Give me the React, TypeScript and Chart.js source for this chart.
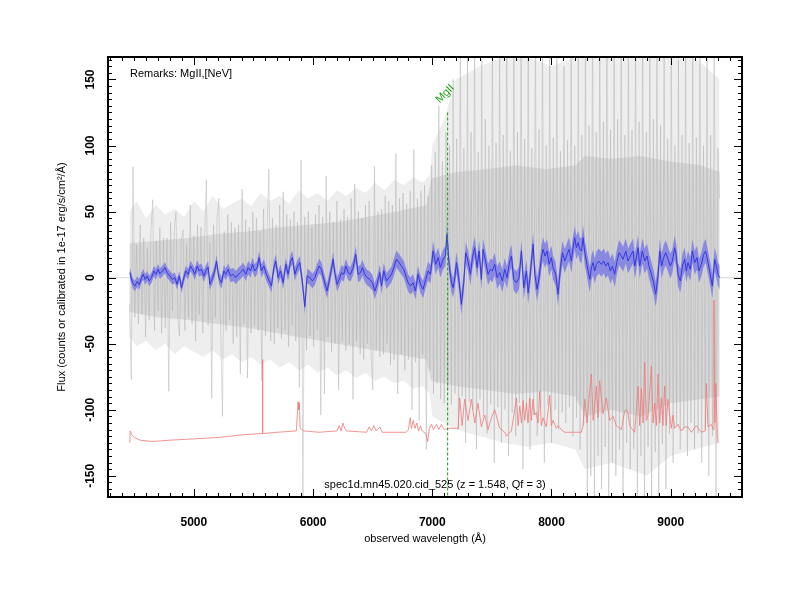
import React, { useEffect, useRef } from "react";
import { Chart, registerables } from "chart.js";

Chart.register(...registerables);

const FONT = '"Liberation Sans", Arial, Helvetica, sans-serif';

const X_MIN = 4280;
const X_MAX = 9598;
const Y_MIN = -166;
const Y_MAX = 167;
const xTickValues = [5000, 6000, 7000, 8000, 9000];
const yTickValues = [-150, -100, -50, 0, 50, 100, 150];
const xTitle = "observed wavelength (Å)";
const yTitle = "Flux (counts or calibrated in 1e-17 erg/s/cm²/Å)";
const remarks = "Remarks: MgII,[NeV]";
const caption = "spec1d.mn45.020.cid_525 (z = 1.548, Qf = 3)";
const lineName = "MgII";
const lineWave = 7129;
const lineTop = 125;

// raw (unsmoothed) spectrum, grey
const rawWave = [
  4460, 4475, 4490, 4505, 4520, 4535, 4550, 4565, 4580, 4595, 4610, 4625, 4640, 4655, 4670, 4685, 4700, 4715, 4730, 4745,
  4760, 4775, 4790, 4805, 4820, 4835, 4850, 4865, 4880, 4895, 4910, 4925, 4940, 4955, 4970, 4985, 5000, 5015, 5030, 5045,
  5060, 5075, 5090, 5105, 5120, 5135, 5150, 5165, 5180, 5195, 5210, 5225, 5240, 5255, 5270, 5285, 5300, 5315, 5330, 5345,
  5360, 5375, 5390, 5405, 5420, 5435, 5450, 5465, 5480, 5495, 5510, 5525, 5540, 5555, 5570, 5585, 5600, 5615, 5630, 5645,
  5660, 5675, 5690, 5705, 5720, 5735, 5750, 5765, 5780, 5795, 5810, 5825, 5840, 5855, 5870, 5885, 5900, 5915, 5930, 5945,
  5960, 5975, 5990, 6005, 6020, 6035, 6050, 6065, 6080, 6095, 6110, 6125, 6140, 6155, 6170, 6185, 6200, 6215, 6230, 6245,
  6260, 6275, 6290, 6305, 6320, 6335, 6350, 6365, 6380, 6395, 6410, 6425, 6440, 6455, 6470, 6485, 6500, 6515, 6530, 6545,
  6560, 6575, 6590, 6605, 6620, 6635, 6650, 6665, 6680, 6695, 6710, 6725, 6740, 6755, 6770, 6785, 6800, 6815, 6830, 6845,
  6860, 6875, 6890, 6905, 6920, 6935, 6950, 6965, 6980, 6995, 7010, 7025, 7040, 7055, 7070, 7085, 7100, 7115, 7130, 7145,
  7160, 7175, 7190, 7205, 7220, 7235, 7250, 7265, 7280, 7295, 7310, 7325, 7340, 7355, 7370, 7385, 7400, 7415, 7430, 7445,
  7460, 7475, 7490, 7505, 7520, 7535, 7550, 7565, 7580, 7595, 7610, 7625, 7640, 7655, 7670, 7685, 7700, 7715, 7730, 7745,
  7760, 7775, 7790, 7805, 7820, 7835, 7850, 7865, 7880, 7895, 7910, 7925, 7940, 7955, 7970, 7985, 8000, 8015, 8030, 8045,
  8060, 8075, 8090, 8105, 8120, 8135, 8150, 8165, 8180, 8195, 8210, 8225, 8240, 8255, 8270, 8285, 8300, 8315, 8330, 8345,
  8360, 8375, 8390, 8405, 8420, 8435, 8450, 8465, 8480, 8495, 8510, 8525, 8540, 8555, 8570, 8585, 8600, 8615, 8630, 8645,
  8660, 8675, 8690, 8705, 8720, 8735, 8750, 8765, 8780, 8795, 8810, 8825, 8840, 8855, 8870, 8885, 8900, 8915, 8930, 8945,
  8960, 8975, 8990, 9005, 9020, 9035, 9050, 9065, 9080, 9095, 9110, 9125, 9140, 9155, 9170, 9185, 9200, 9215, 9230, 9245,
  9260, 9275, 9290, 9305, 9320, 9335, 9350, 9365, 9380, 9395, 9410,
];
const rawFlux = [
  -20, -77, 84, -30, 25, -35, 40, -28, 30, -45, 22, -32, 35, 59, -40, 28, -25, 38, -42, 30,
  -38, 30, -86, 42, -25, 35, 50, -30, -44, 28, 36, -40, 25, -30, 55, -35, 32, -48, 40, -28,
  38, -42, 30, 74, -36, 26, -91, 40, -30, 45, 60, -38, -105, 35, -40, 48, -32, 42, -50, 38,
  -45, 40, -73, 67, -35, 44, -76, 38, -42, 50, -36, 45, -40, 35, -78, 52, -44, 38, 82, -48,
  45, -50, 40, -38, 55, -46, 65, -40, 48, -52, 44, -36, 50, -48, 42, -83, 89, -166, 46, -55,
  50, -44, 38, -52, 48, -40, 55, -104, 46, -88, 77, -45, 50, -56, 42, -50, 58, -85, 44, -48,
  52, -55, 46, -50, 60, -92, 71, -48, 50, -58, 45, -62, 55, -50, 58, -52, -85, 84, -55, 50,
  -60, 52, -58, 62, -50, 58, -66, 55, -62, 94, -88, 60, -58, 64, -70, 56, -62, 66, -100, 97,
  -64, 60, -108, 66, -58, 70, -130, 62, -70, 85, -88, 95, -80, 130, -92, 88, -95, 110, -85, 100,
  -96, 150, -88, 105, -115, 180, -90, 98, -125, 175, -94, 110, -100, 190, -130, 95, -92, 165, -105, 120,
  -118, 100, -96, 185, -140, 102, -98, 170, -125, 108, -100, 200, -135, 96, -102, 180, -120, 110, -95, 195,
  -145, 105, -100, 175, -130, 98, -104, 190, -120, 112, -98, 200, -140, 100, -96, 170, -125, 106, -100, 185,
  -115, 96, -102, 160, -110, 104, -98, 180, -120, 100, -106, 175, -130, 108, -112, 200, -180, 115, -150, 210,
  -170, 110, -135, 190, -160, 118, -128, 200, -175, 112, -140, 185, -150, 120, -130, 200, -165, 108, -125, 180,
  -145, 112, -130, 195, -170, 118, -135, 205, -185, 110, -128, 190, -175, 120, -132, 200, -180, 115, -126, 185,
  -160, 105, -118, 175, -140, 100, -112, 165, -130, 108, -115, 180, -135, 102, -110, 170, -130, 106, -118, 185,
  -140, 100, -115, 175, -150, 108, -120, 190, -170, 98, 60,
];

// dense core of the raw spectrum
const envWave = [4460, 4700, 4950, 5200, 5450, 5700, 5950, 6200, 6450, 6700, 6950, 6990, 7200, 7450, 7700, 7950, 8200, 8280, 8500, 8750, 9000, 9250, 9410];
const coreHi = [26, 28, 30, 33, 35, 38, 40, 42, 46, 50, 55, 75, 80, 82, 85, 82, 85, 92, 90, 92, 88, 85, 80];
const coreLo = [-26, -30, -32, -35, -38, -42, -46, -50, -54, -58, -62, -78, -82, -85, -88, -86, -90, -105, -100, -105, -95, -92, -90];

// lighter outer zone of the raw spectrum
const outerWave = [
  4460, 4520, 4600, 4680, 4760, 4840, 4920, 5000, 5080, 5160, 5240, 5320, 5400, 5480, 5560, 5640, 5720, 5800, 5880, 5960,
  6040, 6120, 6200, 6280, 6360, 6440, 6520, 6600, 6680, 6760, 6840, 6920, 6980, 7000, 7100, 7200, 7400, 7600, 7800, 8000,
  8200, 8280, 8500, 8800, 9000, 9200, 9410,
];
const outerHi = [
  50, 58, 45, 55, 48, 52, 46, 58, 50, 62, 52, 56, 60, 54, 64, 58, 62, 56, 66, 60,
  64, 58, 66, 62, 68, 64, 72, 66, 74, 70, 76, 72, 78, 100, 120, 150, 160, 167, 167, 160,
  167, 167, 167, 167, 167, 167, 150,
];
const outerLo = [
  -45, -52, -48, -55, -50, -58, -52, -56, -60, -55, -62, -58, -64, -60, -66, -62, -68, -64, -70, -66,
  -72, -68, -74, -70, -76, -72, -78, -75, -80, -78, -84, -82, -88, -105, -110, -115, -120, -125, -128, -125,
  -130, -145, -140, -150, -135, -130, -125,
];

// smoothed spectrum (blue) and its error
const blueWave = [
  4463, 4486, 4505, 4525, 4542, 4561, 4575, 4592, 4609, 4625, 4645, 4665, 4681, 4701, 4715, 4737, 4757, 4776, 4799, 4821,
  4841, 4860, 4877, 4897, 4916, 4933, 4952, 4972, 4989, 5008, 5028, 5045, 5064, 5084, 5101, 5120, 5134, 5157, 5176, 5190,
  5210, 5232, 5252, 5268, 5288, 5307, 5330, 5352, 5372, 5391, 5414, 5436, 5456, 5475, 5492, 5511, 5531, 5548, 5567, 5587,
  5609, 5632, 5651, 5671, 5688, 5707, 5727, 5749, 5771, 5791, 5811, 5827, 5847, 5866, 5889, 5911, 5931, 5950, 5973, 5995,
  6015, 6034, 6051, 6070, 6090, 6118, 6135, 6154, 6168, 6182, 6202, 6219, 6238, 6258, 6275, 6294, 6314, 6336, 6358, 6378,
  6398, 6414, 6434, 6454, 6476, 6498, 6518, 6537, 6560, 6574, 6593, 6616, 6638, 6658, 6677, 6699, 6722, 6741, 6761, 6783,
  6797, 6817, 6839, 6859, 6881, 6901, 6923, 6945, 6965, 6985, 7007, 7029, 7049, 7068, 7091, 7110, 7124, 7141, 7161, 7175,
  7189, 7203, 7225, 7244, 7264, 7281, 7300, 7320, 7337, 7356, 7376, 7393, 7412, 7426, 7449, 7468, 7488, 7504, 7524, 7544,
  7566, 7588, 7608, 7627, 7650, 7664, 7683, 7706, 7728, 7748, 7767, 7790, 7804, 7818, 7832, 7846, 7860, 7879, 7896, 7915,
  7929, 7946, 7963, 7980, 7999, 8013, 8036, 8055, 8075, 8092, 8111, 8131, 8147, 8167, 8181, 8195, 8209, 8223, 8237, 8251,
  8265, 8279, 8293, 8307, 8321, 8335, 8349, 8363, 8377, 8396, 8419, 8438, 8455, 8474, 8494, 8511, 8530, 8550, 8567, 8586,
  8600, 8623, 8642, 8662, 8684, 8698, 8712, 8726, 8740, 8762, 8782, 8801, 8818, 8838, 8857, 8874, 8894, 8908, 8924, 8941,
  8958, 8978, 8997, 9014, 9033, 9047, 9061, 9081, 9098, 9117, 9131, 9145, 9165, 9182, 9201, 9221, 9237, 9257, 9277, 9293,
  9313, 9332, 9349, 9369, 9383, 9397, 9411,
];
const blueFlux = [
  3.8, -3.8, -6.3, -3.0, -5.1, 0, 2.5, -1.3, 1.3, -2.5, 0, 5.1, 2.5, 6.3, 3.0, 5.1, 7.6, 3.8, 1.3, -1.3,
  0, -5.1, 1.3, -7.6, 0, 5.1, 2.5, 8.8, 6.3, 2.5, 8.8, 5.1, 6.3, 1.3, 5.1, 8.1, -5.1, 0, 5.1, 12.6,
  0, -3.8, 5.1, 2.5, 6.3, 1.3, 2.5, 0, 2.5, 3.8, 6.3, 2.5, 7.6, 5.1, 10.1, 5.1, 7.6, 15.2, 5.1, 8.8,
  2.5, -2.5, -6.3, 7.6, 12.6, 0, 5.1, -3.8, 10.1, 2.5, 12.6, 15.2, 2.5, 7.6, 11.4, -3.8, -22, 1.3, 0, -2.5,
  0, 5.1, 8.8, 6.3, -1.3, -10.1, -2.5, 6.3, 13.9, 3.8, -5.1, -1.3, 3.8, 2.5, 8.8, 3.8, 2.5, 7.6, 17.7, 2.5,
  3.8, 7.6, 2.5, 0, -1.3, -3.8, -10.1, -5.1, 3.8, -6.3, 5.1, -2.5, 0, 2.5, 7.6, 14, 11.4, 8.8, 6.3, 0,
  -3.8, -6.3, -3.8, -10.1, 2.5, -5.1, -8.8, -1.3, 5.1, 2.5, 20.2, 10.1, 15.2, 7.6, 13.9, 16.4, 32.8, 10.1, -3.8, -7.6,
  0, 11.4, -2.5, -20.2, -3.8, 18.9, 12.6, 2.5, 15.2, 22.7, 7.6, 20.2, -1.3, 21.5, 11.4, 2.5, 6.3, 5.1, 10.1, 0,
  3.8, -2.5, 6.3, 0, 12.6, 16.4, -1.3, -3.8, 0, 20.2, -7.6, 5.1, -11.4, -1.3, 12.6, 25.3, 2.5, -8.8, 0, 15.2,
  21.5, 16.4, 20.2, 10.1, 15.2, 7.6, 2.5, -12.6, 7.6, 18.9, 12.6, 17.7, 21.5, 12.6, 22.7, 30.3, 22.7, 26.5, 21.5, 20.2,
  30.3, 18.9, 12.6, 5.1, -1.3, 7.6, 11.4, 5.1, 10.1, 12.6, 10.1, 12.6, 8.8, 11.4, 5.1, 8.8, 2.5, 12.6, 18.9, 16.4,
  13.9, 20.2, 12.6, 16.4, 20.2, 8.8, 15.2, 22.7, 8.8, 20.2, 12.6, 16.4, 8.8, 2.5, -3.8, -12.6, 1.3, 20.2, 8.8, 15.2,
  18.9, 13.9, 8.8, 12.6, 22.7, 16.4, 2.5, -2.5, 8.8, 13.9, 5.1, 11.4, 6.3, 20.2, 11.4, 15.2, 5.1, 10.1, 17.7, 20.2,
  11.4, 2.5, -6.3, 13.9, 8.8, 2.5, 0,
];
const blueErr = [
  4, 4, 4, 4, 4, 4, 4, 4, 4, 4, 4, 4, 4, 4, 4, 4, 4, 4, 4, 4,
  4, 4, 4, 4, 4, 4, 4, 4, 4, 4.5, 4.5, 4.5, 4.5, 4.5, 4.5, 4.5, 4.5, 4.5, 4.5, 4.5,
  4.5, 4.5, 4.5, 4.5, 4.5, 5, 5, 5, 5, 5, 5, 5, 5, 5, 5, 5, 5, 5, 5, 5,
  5, 5, 5, 5, 5, 5, 5, 5, 5, 5, 5, 5, 5, 5, 5, 5.5, 5.5, 5.5, 5.5, 5.5,
  5.5, 5.5, 5.5, 5.5, 5.5, 5.5, 5.5, 5.5, 5.5, 5.5, 5.5, 5.5, 5.5, 5.5, 5.5, 5.5, 5.5, 6, 6, 6,
  6, 6, 6, 6, 6, 6, 6, 6, 6, 6, 6, 6, 6, 6, 6.5, 6.5, 6.5, 6.5, 6.5, 6.5,
  6.5, 6.5, 6.5, 6.5, 6.5, 6.5, 6.5, 6.5, 7, 7, 7.5, 7.5, 7.5, 7.5, 7.5, 7.5, 7.5, 7.5, 7.5, 7.5,
  8, 8, 8, 8, 8, 8, 8, 8, 8, 8, 8, 8, 8, 8, 8, 8, 8, 8.5, 8.5, 8.5,
  8.5, 8.5, 8.5, 8.5, 8.5, 8.5, 8.5, 8.5, 8.5, 8.5, 8.5, 8.5, 8.5, 8.5, 9, 9, 9, 9, 9, 9,
  9, 9, 9, 9, 9, 9, 9, 9, 9, 9, 9, 9, 9, 9, 9, 9, 9, 9, 9, 9.5,
  9.5, 9.5, 9.5, 9.5, 9.5, 9.5, 9.5, 9.5, 9.5, 9.5, 9.5, 9.5, 9.5, 9.5, 9.5, 9.5, 9.5, 9.5, 9.5, 9.5,
  9.5, 9.5, 9.5, 9.5, 9.5, 9.5, 9.5, 9.5, 9.5, 9.5, 9.5, 9.5, 9.5, 9.5, 9.5, 9.5, 9.5, 9.5, 9.5, 9.5,
  9.5, 9.5, 9.5, 9, 9, 9, 9, 9, 9, 9, 9, 9, 9, 9, 9, 9, 9, 9, 9, 9,
  9, 9, 9, 9, 9, 9, 9,
];

// sky / error spectrum (red)
const redWave = [
  4463, 4466, 4480, 4500, 4550, 4650, 4800, 5000, 5200, 5400, 5565, 5573, 5576, 5579, 5700, 5860, 5874, 5880, 5885, 5892,
  5920, 6050, 6200, 6220, 6235, 6250, 6265, 6280, 6450, 6470, 6490, 6510, 6530, 6560, 6580, 6780, 6800, 6815, 6825, 6840,
  6855, 6870, 6885, 6900, 6915, 6945, 6962, 6975, 6993, 7010, 7035, 7055, 7077, 7100, 7140, 7200, 7217, 7230, 7250, 7272,
  7300, 7328, 7356, 7384, 7412, 7440, 7468, 7496, 7524, 7566, 7608, 7622, 7664, 7706, 7720, 7734, 7748, 7762, 7776, 7790,
  7803, 7817, 7831, 7845, 7859, 7873, 7887, 7901, 7915, 7929, 7957, 7985, 7999, 8013, 8041, 8055, 8083, 8111, 8180, 8251,
  8265, 8279, 8298, 8320, 8335, 8349, 8363, 8376, 8390, 8404, 8432, 8460, 8488, 8516, 8544, 8586, 8600, 8614, 8628, 8642,
  8656, 8670, 8698, 8726, 8740, 8754, 8768, 8782, 8796, 8810, 8838, 8852, 8866, 8880, 8894, 8908, 8921, 8935, 8949, 8963,
  8977, 9005, 9019, 9033, 9061, 9089, 9117, 9145, 9173, 9215, 9257, 9290, 9299, 9313, 9341, 9358, 9363, 9370, 9378, 9391,
  9397,
];
const redFlux = [
  -125, -116, -119, -121, -123, -124, -123, -122, -121, -119, -118, -118, -62, -118, -117, -116, -94, -100, -95, -114,
  -116, -117, -116, -112, -116, -110, -114, -116, -117, -113, -116, -112, -116, -113, -117, -117, -115, -106, -114, -108,
  -114, -110, -116, -112, -116, -118, -124, -114, -111, -115, -111, -115, -111, -115, -114, -114, -114, -91, -112, -92,
  -108, -92, -110, -95, -113, -104, -115, -106, -100, -114, -117, -120, -116, -91, -112, -97, -110, -93, -108, -95,
  -110, -91, -108, -92, -104, -102, -110, -86, -112, -106, -113, -89, -112, -108, -114, -112, -115, -117, -117, -117,
  -112, -92, -110, -86, -73, -108, -96, -82, -106, -78, -103, -91, -108, -105, -112, -115, -108, -101, -100, -102,
  -112, -114, -117, -82, -112, -84, -110, -64, -108, -104, -67, -110, -95, -112, -73, -110, -91, -112, -82, -112,
  -92, -114, -104, -114, -111, -116, -113, -113, -117, -112, -117, -116, -80, -113, -111, -115, -17, -110, -80, -118,
  -125,
];

function pts(xs: number[], ys: number[]) {
  return xs.map((x, i) => ({ x, y: ys[i] }));
}

const decorPlugin = {
  id: "decor",
  beforeDatasetsDraw(chart: any) {
    const { ctx, chartArea: a, scales } = chart;
    const y0 = scales.y.getPixelForValue(0);
    ctx.save();
    ctx.strokeStyle = "#d8d8d8";
    ctx.lineWidth = 1;
    ctx.beginPath();
    ctx.moveTo(a.left, y0);
    ctx.lineTo(a.right, y0);
    ctx.stroke();
    ctx.restore();
  },
  afterDatasetsDraw(chart: any) {
    const { ctx, scales } = chart;
    const px = scales.x.getPixelForValue(lineWave);
    const py = scales.y.getPixelForValue(lineTop);
    ctx.save();
    ctx.translate(px - 8, py - 9);
    ctx.rotate(-Math.PI / 4);
    ctx.font = `11px ${FONT}`;
    ctx.fillStyle = "rgb(20,160,20)";
    ctx.textAlign = "left";
    ctx.textBaseline = "alphabetic";
    ctx.fillText(lineName, 0, 0);
    ctx.restore();
  },
  afterDraw(chart: any) {
    const { ctx, chartArea: a, scales } = chart;
    const xs = scales.x;
    const ys = scales.y;
    ctx.save();
    ctx.strokeStyle = "#000";
    ctx.lineWidth = 1;
    ctx.beginPath();
    for (let v = Math.ceil(X_MIN / 100) * 100; v <= X_MAX; v += 100) {
      const px = Math.round(xs.getPixelForValue(v)) + 0.5;
      const len = v % 1000 === 0 ? 8 : 4;
      ctx.moveTo(px, a.bottom);
      ctx.lineTo(px, a.bottom - len);
      ctx.moveTo(px, a.top);
      ctx.lineTo(px, a.top + len);
    }
    for (let v = Math.ceil(Y_MIN / 5) * 5; v <= Y_MAX; v += 5) {
      const py = Math.round(ys.getPixelForValue(v)) + 0.5;
      const len = v % 50 === 0 ? 8 : 4;
      ctx.moveTo(a.left, py);
      ctx.lineTo(a.left + len, py);
      ctx.moveTo(a.right, py);
      ctx.lineTo(a.right - len, py);
    }
    ctx.stroke();
    ctx.lineWidth = 2;
    ctx.strokeRect(a.left, a.top, a.right - a.left, a.bottom - a.top);

    ctx.fillStyle = "#000";
    ctx.font = `bold 12px ${FONT}`;
    ctx.textAlign = "center";
    ctx.textBaseline = "middle";
    for (const v of yTickValues) {
      const py = ys.getPixelForValue(v);
      ctx.save();
      ctx.translate(a.left - 17, py);
      ctx.rotate(-Math.PI / 2);
      ctx.fillText(String(v), 0, 0);
      ctx.restore();
    }

    ctx.font = `11px ${FONT}`;
    ctx.textAlign = "left";
    ctx.textBaseline = "alphabetic";
    ctx.fillText(remarks, a.left + 22, a.top + 20);
    ctx.textAlign = "center";
    ctx.fillText(caption, a.left + 327, a.bottom - 9);
    ctx.restore();
  },
};

export default function App() {
  const ref = useRef<HTMLCanvasElement | null>(null);

  useEffect(() => {
    if (!ref.current) return;
    const chart = new Chart(ref.current, {
      type: "line",
      data: {
        datasets: [
          {
            label: "outer",
            data: pts(outerWave, outerHi),
            borderWidth: 0,
            pointRadius: 0,
            fill: "+1",
            backgroundColor: "rgb(238,238,238)",
            order: 9,
          },
          {
            label: "outerLo",
            data: pts(outerWave, outerLo),
            borderWidth: 0,
            pointRadius: 0,
            fill: false,
            order: 9,
          },
          {
            label: "core",
            data: pts(envWave, coreHi),
            borderWidth: 0,
            pointRadius: 0,
            fill: "+1",
            backgroundColor: "rgb(216,216,216)",
            order: 8,
          },
          {
            label: "coreLo",
            data: pts(envWave, coreLo),
            borderWidth: 0,
            pointRadius: 0,
            fill: false,
            order: 8,
          },
          {
            label: "raw",
            data: pts(rawWave, rawFlux),
            borderColor: "rgba(175,175,175,0.45)",
            borderWidth: 1,
            pointRadius: 0,
            fill: false,
            order: 7,
          },
          {
            label: "bandHi",
            data: blueWave.map((x, i) => ({ x, y: blueFlux[i] + blueErr[i] })),
            borderWidth: 0,
            pointRadius: 0,
            fill: "+1",
            backgroundColor: "rgba(125,125,228,0.85)",
            order: 6,
          },
          {
            label: "bandLo",
            data: blueWave.map((x, i) => ({ x, y: blueFlux[i] - blueErr[i] })),
            borderWidth: 0,
            pointRadius: 0,
            fill: false,
            order: 6,
          },
          {
            label: "smoothed",
            data: pts(blueWave, blueFlux),
            borderColor: "rgb(55,55,225)",
            borderWidth: 1,
            pointRadius: 0,
            fill: false,
            order: 5,
          },
          {
            label: "sky",
            data: pts(redWave, redFlux),
            borderColor: "rgb(240,120,120)",
            borderWidth: 0.8,
            pointRadius: 0,
            fill: false,
            order: 4,
          },
          {
            label: lineName,
            data: [
              { x: lineWave, y: lineTop },
              { x: lineWave, y: Y_MIN },
            ],
            borderColor: "rgb(20,160,20)",
            borderWidth: 1,
            borderDash: [3, 2],
            pointRadius: 0,
            fill: false,
            order: 3,
          },
        ],
      },
      options: {
        animation: false,
        responsive: true,
        maintainAspectRatio: false,
        layout: { padding: { top: 57, right: 58, left: 0, bottom: 0 } },
        elements: { line: { tension: 0 }, point: { radius: 0 } },
        plugins: {
          legend: { display: false },
          tooltip: { enabled: false },
        },
        scales: {
          x: {
            type: "linear",
            min: X_MIN,
            max: X_MAX,
            grid: { display: false },
            border: { display: false },
            afterBuildTicks: (s: any) => {
              s.ticks = xTickValues.map((v) => ({ value: v }));
            },
            afterFit: (s: any) => {
              s.height = 103;
            },
            ticks: {
              padding: 10,
              color: "#000",
              font: { family: FONT, size: 12, weight: "bold" },
              callback: (v: any) => String(v),
              maxRotation: 0,
              autoSkip: false,
            },
            title: {
              display: true,
              text: xTitle,
              color: "#000",
              font: { family: FONT, size: 11 },
              padding: { top: 0, bottom: 54 },
            },
          },
          y: {
            type: "linear",
            min: Y_MIN,
            max: Y_MAX,
            grid: { display: false },
            border: { display: false },
            afterBuildTicks: (s: any) => {
              s.ticks = yTickValues.map((v) => ({ value: v }));
            },
            afterFit: (s: any) => {
              s.width = 108;
            },
            ticks: { display: false },
            title: {
              display: true,
              text: yTitle,
              color: "#000",
              font: { family: FONT, size: 11 },
              padding: { top: 55, bottom: 0 },
            },
          },
        },
      } as any,
      plugins: [decorPlugin],
    });
    return () => chart.destroy();
  }, []);

  return (
    <div style={{ position: "absolute", left: 0, top: 0, width: 800, height: 600, background: "#fff" }}>
      <canvas ref={ref} />
    </div>
  );
}
